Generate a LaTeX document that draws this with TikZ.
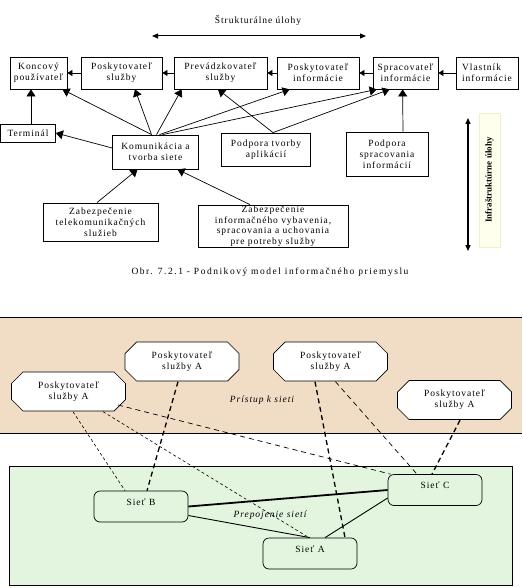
\documentclass[tikz,border=0pt]{standalone}
\usepackage{fontspec}
\setmainfont{Liberation Serif}[LetterSpace=10]
\usetikzlibrary{arrows.meta,calc}
\definecolor{bandtan}{HTML}{F1DDC6}
\definecolor{netgreen}{HTML}{E3F5DF}
\definecolor{infrafill}{HTML}{FFFFEE}
\definecolor{infraline}{HTML}{F2F0C8}
\begin{document}
\begin{tikzpicture}[x=1pt,y=-1pt,
  base/.style={font=\fontsize{9.5}{11}\selectfont, align=center, inner sep=0pt},
  box/.style={base, draw, line width=0.8pt, fill=white},
  arr/.style={line width=0.7pt, -{Triangle[length=7pt,width=9pt]}},
  sarr/.style={line width=0.8pt, -{Triangle[length=5pt,width=6pt]}},
  darr/.style={line width=1.3pt, {Triangle[length=6pt,width=5pt]}-{Triangle[length=6pt,width=5pt]}},
  oct/.style={base, minimum width=115pt, minimum height=40pt,
    path picture={
      \draw[line width=0.7pt, fill=white]
        ($(path picture bounding box.north west)+(12,0.5)$) --
        ($(path picture bounding box.north east)+(-12,0.5)$) --
        ($(path picture bounding box.north east)+(-0.5,12)$) --
        ($(path picture bounding box.south east)+(-0.5,-12)$) --
        ($(path picture bounding box.south east)+(-12,-0.5)$) --
        ($(path picture bounding box.south west)+(12,-0.5)$) --
        ($(path picture bounding box.south west)+(0.5,-12)$) --
        ($(path picture bounding box.north west)+(0.5,12)$) -- cycle;
    }},
  net/.style={base, draw, line width=0.7pt, fill=netgreen, rounded corners=6pt,
    minimum width=94pt, minimum height=31pt, text height=7pt, text depth=10pt},
  fdash/.style={line width=0.6pt, dash pattern=on 3pt off 2.5pt},
  ldash/.style={line width=0.7pt, dash pattern=on 5pt off 4pt},
  tdash/.style={line width=1.3pt, dash pattern=on 5pt off 3.5pt},
  lbl/.style={base, font=\fontsize{9.5}{11}\selectfont\itshape}
]
\useasboundingbox (0,0) rectangle (522,588);

% ---------- top diagram ----------
\node[base] (title) at (258,20) {Štrukturálne úlohy};
\coordinate (hl) at (152,36);
\coordinate (hr) at (366,36);
\draw[darr, line width=1pt] (hl) -- (hr);

\node[box, minimum width=57pt, minimum height=32pt] (kon) at (38.5,73) {Koncový\\používateľ};
\node[box, minimum width=81pt, minimum height=32pt] (pss) at (121.5,73) {Poskytovateľ\\služby};
\node[box, minimum width=93pt, minimum height=32pt] (pre) at (220.5,73) {Prevádzkovateľ\\služby};
\node[box, minimum width=82pt, minimum height=32pt] (psi) at (318,73) {Poskytovateľ\\informácie};
\node[box, minimum width=65pt, minimum height=32pt] (spr) at (405.5,73) {Spracovateľ\\informácie};
\node[box, minimum width=62pt, minimum height=32pt, align=left] (vla) at (487,73) {Vlastník\\informácie};

\draw[sarr] (vla.west) -- (spr.east);
\draw[sarr] (spr.west) -- (psi.east);
\draw[sarr] (psi.west) -- (pre.east);
\draw[sarr] (pre.west) -- (pss.east);
\draw[sarr] (pss.west) -- (kon.east);

\node[box, minimum width=55pt, minimum height=18pt] (ter) at (28,133) {Terminál};
\node[box, minimum width=86pt, minimum height=34pt] (kom) at (155.5,152) {Komunikácia a\\tvorba siete};
\node[box, minimum width=89pt, minimum height=33pt] (ptv) at (266,149.5) {Podpora tvorby\\aplikácií};
\node[box, minimum width=82pt, minimum height=44pt] (psp) at (387,154) {Podpora\\spracovania\\informácií};
\node[box, minimum width=115pt, minimum height=38pt] (zt) at (100.5,222) {Zabezpečenie\\telekomunikačných\\služieb};
\node[box, minimum width=150pt, minimum height=42pt, font=\fontsize{9.5}{10.5}\selectfont] (zi) at (273,226) {Zabezpečenie\\informačného vybavenia,\\spracovania a uchovania\\pre potreby služby};

\coordinate (kx) at (31,0);
\draw[arr] (ter.north -| kx) -- (kon.south -| kx);
\draw[arr] ($(kom.west)+(0,-4)$) -- (ter.east);
\draw[arr] ($(kom.north)+(-4,0)$) -- ($(kon.south east)+(-5,0)$);
\draw[arr] ($(kom.north)+(-4,0)$) -- ($(pss.south)+(13.5,0)$);
\draw[arr] ($(kom.north)+(1,0)$) -- ($(pre.south west)+(8,0)$);
\draw[arr] ($(kom.north)+(4,0)$) -- ($(psi.south west)+(13,0)$);
\draw[arr] ($(kom.north)+(7,0)$) -- ($(spr.south west)+(4,0)$);
\draw[arr] ($(ptv.north)+(7,0)$) -- ($(pre.south)+(-2.5,0)$);
\draw[arr] ($(ptv.north)+(7,0)$) -- ($(spr.south west)+(17,0)$);
\draw[arr] ($(psp.north)+(16,0)$) -- ($(spr.south west)+(30,0)$);
\draw[arr] ($(zt.north)+(-3.5,0)$) -- ($(kom.south)+(-18,0)$);
\draw[arr] ($(zi.north)+(-23,0)$) -- ($(kom.south)+(22,0)$);

\coordinate (vt) at (468,118);
\coordinate (vb) at (468,251);
\draw[darr] (vt) -- (vb);
\node[draw=infraline, fill=infrafill, line width=0.6pt, minimum width=21pt, minimum height=134pt, inner sep=0pt] (infra) at (489.5,180) {};
\node[rotate=90, inner sep=0pt, font=\fontsize{9}{10}\selectfont\bfseries\addfontfeatures{LetterSpace=0}] (infratext) at (infra.center) {Infraštruktúrne úlohy};

\node[base, font=\fontsize{9.5}{11}\selectfont\addfontfeatures{LetterSpace=16}] (cap) at (270,272) {Obr. 7.2.1 - Podnikový model informačného priemyslu};

% ---------- bottom diagram ----------
\fill[bandtan] (0,317) rectangle (522,433);
\draw[line width=0.8pt] (0,317) -- (522,317);
\draw[line width=0.8pt] (0,433) -- (522,433);
\draw[line width=0.8pt, fill=netgreen] (9,466) rectangle (512,585);

\node[lbl] (pristup) at (262,400) {Prístup k sieti};
\node[lbl] (prepoj) at (270,515) {Prepojenie sietí};

\node[oct] (o1) at (68.5,391.5) {Poskytovateľ\\služby A};
\node[oct] (o2) at (182,361.5) {Poskytovateľ\\služby A};
\node[oct] (o3) at (330.5,361.5) {Poskytovateľ\\služby A};
\node[oct] (o4) at (454.5,400) {Poskytovateľ\\služby A};

\node[net] (sb) at (141,506.5) {Sieť B};
\node[net] (sc) at (435,490) {Sieť C};
\node[net] (sa) at (310,553.5) {Sieť A};

\draw[line width=1.8pt] (sb.east) -- (sc.west);
\draw[line width=0.9pt] ($(sb.east)+(0,9)$) -- (sa.north);
\draw[line width=0.9pt] ($(sc.west)+(0,8)$) -- ($(sa.north)+(15,0)$);

\draw[fdash] ($(o1.south)+(4.5,0)$) -- ($(sb.north)+(-16,0)$);
\draw[fdash] ($(o1.south)+(34.5,0)$) -- ($(sa.north)+(-1,0)$);
\draw[ldash] ($(o1.center)+(49.5,13.5)$) -- ($(sc.north west)+(3,0)$);
\draw[tdash] ($(o2.south)+(-4,0)$) -- ($(sb.north)+(6,0)$);
\draw[tdash] ($(o3.south)+(-15.5,0)$) -- ($(sa.north)+(35,0)$);
\draw[ldash] ($(o3.south)+(5,0)$) -- ($(sc.north)+(-18,0)$);
\draw[tdash] ($(o4.south)+(5.5,0)$) -- ($(sc.north)+(-3,0)$);
\end{tikzpicture}
\end{document}
